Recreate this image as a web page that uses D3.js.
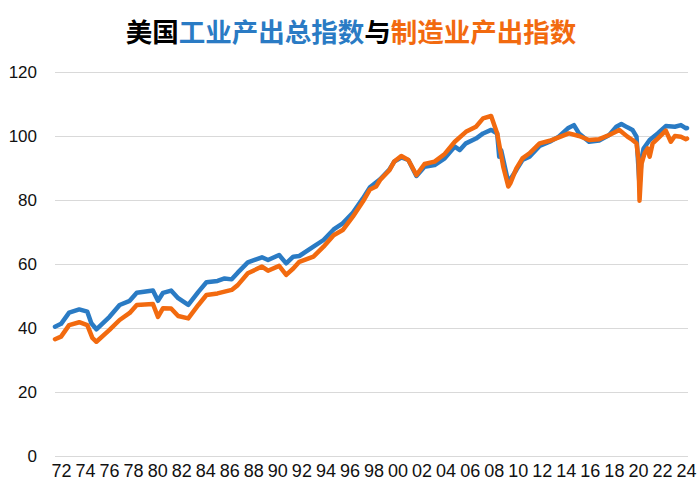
<!DOCTYPE html>
<html>
<head>
<meta charset="utf-8">
<script src="https://cdn.jsdelivr.net/npm/d3@7"></script>
<style>
  html, body { margin: 0; padding: 0; background: #fff; }
  svg { display: block; }
</style>
</head>
<body>
<svg id="chart" width="700" height="492"></svg>
<script>
// ---- Data ----
const titleParts = [
  { text: "美国", key: "black" },
  { text: "工业产出总指数", key: "blue" },
  { text: "与", key: "black" },
  { text: "制造业产出指数", key: "orange" }
];
const xTickLabels = ["72","74","76","78","80","82","84","86","88","90","92","94","96","98","00","02","04","06","08","10","12","14","16","18","20","22","24"];
const yTicks = [0, 20, 40, 60, 80, 100, 120];

const industryDates = ["1972-01","1972-07","1973-03","1974-01","1974-09","1975-01","1975-06","1976-07","1977-05","1978-03","1978-10","1980-02","1980-07","1980-12","1981-08","1982-03","1983-01","1983-11","1984-07","1985-06","1986-01","1986-08","1987-02","1987-12","1989-02","1989-08","1990-07","1991-02","1991-09","1992-03","1993-05","1994-03","1995-01","1995-10","1996-08","1997-06","1998-01","1998-11","1999-08","2000-01","2000-08","2001-03","2001-11","2002-07","2003-05","2004-03","2005-01","2005-06","2005-12","2006-10","2007-05","2008-01","2008-07","2008-09","2008-11","2009-06","2010-02","2010-08","2011-03","2012-01","2012-11","2013-08","2014-05","2014-11","2015-04","2016-02","2016-12","2017-10","2018-05","2018-10","2019-04","2019-09","2020-01","2020-04","2020-06","2020-08","2021-02","2021-10","2022-06","2023-03","2023-09","2024-02","2024-03"];
const industryValues = [40.4,41.3,44.8,45.8,45.1,41.5,39.6,43.5,47.2,48.5,51.0,51.7,48.5,51.0,51.7,49.3,47.2,51.3,54.3,54.7,55.5,55.2,57.3,60.5,62.1,61.25,62.8,60.2,62.3,62.5,65.4,67.5,70.8,72.7,76.0,80.5,84.0,86.5,89.4,92.0,93.3,92.5,87.5,90.4,90.9,93.0,96.7,95.6,97.7,99.2,100.8,101.9,100.8,93.5,95.5,85.5,89.4,92.5,93.5,96.9,98.2,99.8,102.4,103.4,100.8,98.2,98.6,100.3,102.9,103.75,102.7,101.9,99.8,84.5,93.0,96.1,98.75,100.8,103.1,102.9,103.4,102.4,102.5];

const manufDates = ["1972-01","1972-07","1973-03","1974-01","1974-09","1975-02","1975-06","1976-07","1977-05","1978-03","1978-10","1980-02","1980-07","1980-12","1981-08","1982-03","1983-01","1983-11","1984-07","1985-06","1986-08","1987-02","1987-12","1989-02","1989-08","1990-07","1991-02","1991-09","1992-03","1993-05","1994-03","1995-01","1995-10","1996-08","1997-06","1998-01","1998-07","1998-11","1999-08","2000-01","2000-08","2001-03","2001-11","2002-07","2003-05","2004-03","2005-01","2005-12","2006-10","2007-05","2008-01","2008-07","2009-01","2009-06","2009-08","2010-02","2010-08","2011-03","2012-01","2012-11","2013-08","2014-06","2015-04","2016-02","2016-12","2017-10","2018-08","2019-04","2019-09","2020-01","2020-03","2020-04","2020-06","2020-09","2020-12","2021-02","2021-05","2021-10","2022-06","2022-11","2023-03","2023-09","2024-02","2024-03"];
const manufValues = [36.5,37.3,40.9,41.8,40.9,36.9,35.7,39.4,42.5,44.7,47.2,47.5,43.5,46.2,46.1,43.75,43.0,47.2,50.3,50.8,51.9,53.4,57.1,59.2,57.9,59.4,56.6,58.6,60.7,62.3,65.4,69.0,70.6,74.8,79.5,83.3,84.2,86.25,89.2,92.0,93.75,92.5,87.8,91.25,92.0,94.4,98.2,101.3,102.9,105.5,106.25,100.8,90.4,84.2,85.2,89.9,93.0,94.6,97.7,98.5,99.6,100.8,100.0,98.75,99.0,100.3,101.9,99.8,98.75,97.7,92.5,79.8,91.4,94.6,96.1,93.5,97.7,99.2,101.7,98.2,100.0,99.8,99.0,99.2];

// ---- Styles ----
const colors = { black: "#000000", blue: "#2A7BC4", orange: "#F26A0F" };
const margin = { left: 55, right: 12, top: 72, bottom: 36 };
const W = 700, H = 492;

const toYear = s => { const [y, m] = s.split("-").map(Number); return y + (m - 1) / 12; };

const svg = d3.select("#chart");

const x = d3.scaleLinear().domain([1972, 2024.25]).range([margin.left, W - margin.right]);
const y = d3.scaleLinear().domain([0, 120]).range([H - margin.bottom, margin.top]);
const xLab = d3.scalePoint().domain(xTickLabels).range([61, 686]);

// Grid lines
svg.append("g").selectAll("line").data(yTicks).join("line")
  .attr("x1", margin.left).attr("x2", W - margin.right)
  .attr("y1", d => y(d)).attr("y2", d => y(d))
  .attr("stroke", "#d9d9d9").attr("stroke-width", 1)
  .attr("shape-rendering", "crispEdges");

// Y axis labels
const yAxis = d3.axisLeft(y).tickValues(yTicks).tickSize(0).tickPadding(0);
svg.append("g").attr("transform", "translate(37,0)").call(yAxis)
  .call(g => g.select(".domain").remove())
  .call(g => g.selectAll("text")
    .attr("font-family", "'Liberation Sans', Arial, sans-serif")
    .attr("font-size", 17).attr("fill", "#111").attr("dy", "0.35em"));

// X axis labels
const xAxis = d3.axisBottom(xLab).tickSize(0).tickPadding(0);
svg.append("g").attr("transform", `translate(0,${H - margin.bottom + 8})`).call(xAxis)
  .call(g => g.select(".domain").remove())
  .call(g => g.selectAll("text")
    .attr("font-family", "'Liberation Sans Narrow', 'Arial Narrow', 'Liberation Sans', Arial, sans-serif")
    .attr("font-size", 18).attr("fill", "#111").attr("dy", "0.71em"));

// Lines
const line = d3.line().x(d => x(d[0])).y(d => y(d[1])).curve(d3.curveLinear);
const industry = industryDates.map((d, i) => [toYear(d), industryValues[i]]);
const manuf = manufDates.map((d, i) => [toYear(d), manufValues[i]]);

svg.append("path").datum(industry).attr("d", line)
  .attr("fill", "none").attr("stroke", colors.blue).attr("stroke-width", 4.5)
  .attr("stroke-linejoin", "round").attr("stroke-linecap", "round");
svg.append("path").datum(manuf).attr("d", line)
  .attr("fill", "none").attr("stroke", colors.orange).attr("stroke-width", 4.5)
  .attr("stroke-linejoin", "round").attr("stroke-linecap", "round");

// Title
const title = svg.append("text")
  .attr("x", 351).attr("y", 30)
  .attr("text-anchor", "middle").attr("dominant-baseline", "central")
  .attr("font-family", "'Noto Sans CJK SC', sans-serif")
  .attr("font-weight", "bold").attr("font-size", 26.5);
title.selectAll("tspan").data(titleParts).join("tspan")
  .text(d => d.text).attr("fill", d => colors[d.key]);
</script>
</body>
</html>
